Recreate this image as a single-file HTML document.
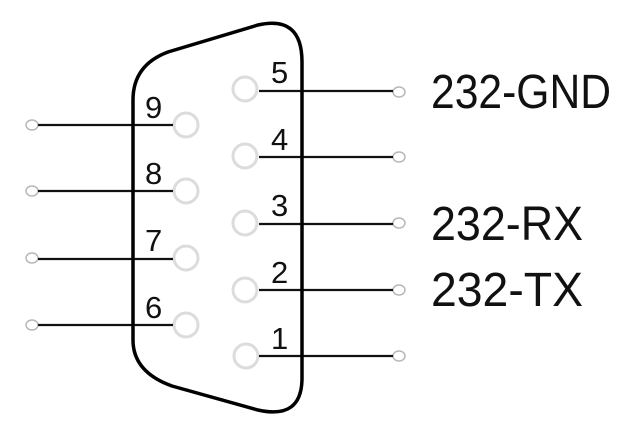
<!DOCTYPE html>
<html><head><meta charset="utf-8"><style>
html,body{margin:0;padding:0;background:#fff;width:631px;height:434px;overflow:hidden}
svg{display:block}
</style></head><body>
<svg width="631" height="434" viewBox="0 0 631 434" xmlns="http://www.w3.org/2000/svg">
<g fill="none" stroke="#dcdcdc" stroke-width="3">
<circle cx="245" cy="89" r="12"/><circle cx="245" cy="156" r="12"/><circle cx="245" cy="223" r="12"/><circle cx="245" cy="290" r="12"/><circle cx="246" cy="356" r="12"/>
<circle cx="186" cy="125" r="12"/><circle cx="186" cy="191" r="12"/><circle cx="186" cy="258" r="12"/><circle cx="186" cy="325" r="12"/>
</g>
<g fill="none" stroke="#b8b8b8" stroke-width="1.5">
<ellipse cx="399" cy="92" rx="6" ry="5"/><ellipse cx="399" cy="157" rx="6" ry="5"/><ellipse cx="399" cy="223" rx="6" ry="5"/><ellipse cx="399" cy="290" rx="6" ry="5"/><ellipse cx="399" cy="356" rx="6" ry="5"/>
<ellipse cx="32" cy="125" rx="6" ry="5"/><ellipse cx="32" cy="191" rx="6" ry="5"/><ellipse cx="32" cy="258" rx="6" ry="5"/><ellipse cx="32" cy="325" rx="6" ry="5"/>
</g>
<g stroke="#111" stroke-width="2.2">
<line x1="259" y1="91" x2="393" y2="91"/><line x1="259" y1="157" x2="393" y2="157"/><line x1="259" y1="224" x2="393" y2="224"/><line x1="259" y1="290" x2="393" y2="290"/><line x1="259" y1="356" x2="393" y2="356"/>
<line x1="38" y1="125" x2="173" y2="125"/><line x1="38" y1="191" x2="173" y2="191"/><line x1="38" y1="259" x2="173" y2="259"/><line x1="38" y1="325" x2="173" y2="325"/>
</g>
<path d="M133 100 Q133 65 168 52 L258 25 Q302 15 302 62 L302 378 Q302 420 258 410 L172 386 Q133 372 133 340 Z" fill="none" stroke="#000" stroke-width="3.5"/>
<g font-family="Liberation Sans, sans-serif" font-size="31" fill="#111">
<text x="145" y="118">9</text><text x="145" y="184">8</text><text x="145" y="251">7</text><text x="145" y="318">6</text>
<text x="271" y="83">5</text><text x="271" y="150">4</text><text x="271" y="216">3</text><text x="271" y="283">2</text><text x="271" y="349">1</text>
</g>
<g font-family="Liberation Sans, sans-serif" font-size="48" fill="#111">
<text x="431" y="108" textLength="180" lengthAdjust="spacingAndGlyphs">232-GND</text>
<text x="431" y="240" textLength="152" lengthAdjust="spacingAndGlyphs">232-RX</text>
<text x="431" y="306" textLength="152" lengthAdjust="spacingAndGlyphs">232-TX</text>
</g>
</svg>
</body></html>
